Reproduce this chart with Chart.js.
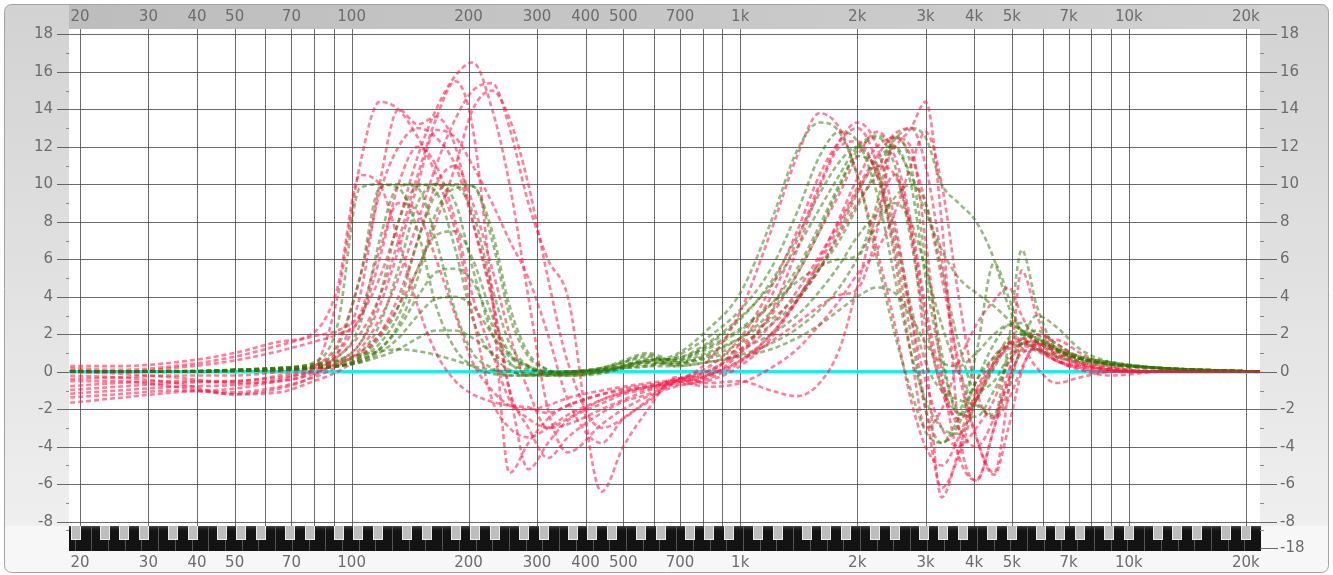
<!DOCTYPE html>
<html>
<head>
<meta charset="utf-8">
<title>EQ curves</title>
<script src="https://cdn.jsdelivr.net/npm/chart.js@4.4.1/dist/chart.umd.min.js"></script>
<style>
  html, body { margin: 0; padding: 0; background: #fff; }
  #wrap { width: 1333px; height: 575px; position: relative; }
</style>
</head>
<body>
<div id="wrap"><canvas id="eq-chart"></canvas></div>
<script>
// Frequency grid (Hz) shared by every curve
const freqs = [18, 25, 35, 50, 65, 80, 92, 105, 118, 132, 148, 165, 185, 205, 230, 255, 285, 320, 360, 440, 500, 580,
               680, 820, 1000, 1200, 1400, 1600, 1800, 2000, 2250, 2500, 2750, 3000, 3300, 3650, 4050, 4500, 4900, 5300, 5800, 6500, 7500, 9000, 12000, 22000];

// Red curves (dB)
const red1 = [0.3, 0.3, 0.5, 1.0, 1.6, 2.1, 4.5, 10.5, 10, 7, 3.5, 1, -0.5, -1.2, -1.6, -1.8, -1.9, -2.2, -1.8, -1.2, -0.9, -0.7,
              -0.5, -0.2, 0.6, 2, 3.8, 5.8, 7.8, 9.6, 11, 10.5, 7.5, 3, -1, -2.5, -1.5, 0.3, 1.4, 1.7, 1.3, 0.6, 0.1, -0.2, 0, 0];
const red2 = [-1.7, -1.4, -1.1, -0.9, -0.5, 0.2, 4, 11, 14.4, 14, 12.5, 10.5, 7.5, 3, -1.5, -3, -3.5, -3, -2.3, -1.5, -1.1, -0.8,
              -0.5, 0.5, 3.2, 7.5, 11.5, 13.8, 13, 10.5, 6.5, 2.5, -1.5, -4, -5, -3.5, -1, 0.8, 1.5, 1.6, 1.2, 0.6, 0.3, 0.1, 0, 0];
const red3 = [-0.5, -0.5, -0.8, -1.2, -0.9, -0.2, 1.0, 4, 10, 14, 13.2, 13.6, 12, 8, 3.8, -1, -3, -4.6, -3.5, -2.2, -1.6, -1.2,
              -0.6, -0.2, 1.5, 4, 7, 10, 12.3, 13.3, 12, 8, 3, -2, -6.2, -4.5, -1.5, 0.5, 1.5, 1.8, 1.5, 0.9, 0.4, 0.1, 0, 0];
const red4 = [-1.2, -1.0, -0.8, -0.7, -0.4, 0.1, 0.8, 2, 4, 7, 10.5, 13.5, 15.5, 13, 4, -5.4, -3.8, -2.5, -1.8, -1.2, -1, -0.8,
              -0.5, 0, 1, 2.5, 4.3, 6.2, 8, 9.8, 11.5, 12.7, 13, 11, 6, 0, -3.5, -5.4, -1, 5.4, 3, 0.8, 0.2, 0, 0, 0];
const red5 = [0.2, 0.1, 0.3, 0.8, 1.4, 1.9, 2.2, 3, 5, 8, 11.5, 14, 15.8, 16.5, 14, 10, 4, -2, -4.3, -2.8, -2, -1.3,
              -0.8, -0.4, 0.5, 2, 3.8, 5.5, 7.3, 9, 10.5, 12, 13, 14.4, 8, -3, -5.8, -3, 0, 1.5, 1.5, 1, 0.5, 0.2, 0, 0];
const red6 = [-1.4, -1.2, -1.0, -1.1, -0.8, -0.3, 0.3, 1.2, 2.8, 5, 8, 11, 13.5, 15, 15.4, 13, 9, 6, 4, -6.4, -4, -2,
              -0.3, -0.6, -0.5, -1.0, -1.3, -0.6, 1.2, 4.5, 8.5, 10.5, 7.5, 1, -6.7, -4.2, -1.2, 0.5, 1.2, 1.4, 1.1, 0.6, 0.3, 0.1, 0, 0];
const red7 = [-0.8, -0.6, -0.5, -0.5, -0.2, 0.3, 1.5, 5, 9.5, 12, 13, 12.5, 11, 8, 4, -1, -5.2, -3.8, -2.6, -1.7, -1.2, -0.9,
              -0.4, -0.2, 0.6, 1.6, 2.6, 3.5, 4.1, 4.4, 7.5, 12.5, 12, 7, 0, -4.5, -5.8, -3, -0.5, 1, 1.2, 0.8, 0.4, 0.1, 0, 0];
const red8 = [0, -0.1, -0.3, -0.6, -0.5, -0.1, 0.5, 1.5, 3.5, 6.5, 10, 12.9, 12.5, 11, 9, 7, 5, 2, -1.5, -3.8, -2.5, -1.6,
              -0.5, 0, 1.2, 3, 5.2, 7.5, 9.5, 11.5, 12.8, 11.5, 8, 3.5, -0.5, -3, -4, -2.5, -0.5, 1.2, 2, 1.5, 0.7, 0.2, 0, 0];
const red9 = [0.1, 0, 0.2, 0.6, 1.1, 1.6, 2.0, 2.8, 6, 10, 12, 11, 8, 4, 1, -1.5, -2.5, -3, -2.8, -2, -1.5, -1.0,
              -0.6, -0.3, 1, 3.2, 6.5, 9.8, 12, 12.3, 10.5, 7, 3, -0.5, -3, -4, -3, -1.5, 0.5, 1.2, 0.2, -0.6, -0.3, 0, 0, 0];
const red10 = [-0.2, -0.3, -0.6, -1.2, -1.1, -0.5, 0, 0.8, 2, 4, 7, 10, 11, 9, 5.5, 2, -1, -3, -2.5, -1.5, -1.1, -0.8,
               -0.7, -0.5, 0.3, 1.8, 3.8, 6, 8.2, 10.3, 12, 12.5, 11.5, 9, 5, 0.5, -3.5, -5.5, -3, 0, 1.5, 1.2, 0.5, 0.1, 0, 0];
const red11 = [-1.0, -0.8, -0.6, -0.5, -0.3, 0, 0.4, 1, 2, 3.5, 5.5, 8, 11, 14, 15, 13.5, 10, 5, 0.5, -3, -2.5, -1.5,
               -0.5, -0.8, -0.6, 0.2, 1.2, 2.5, 3.8, 5.2, 6.5, 8.5, 11, 12.8, 10, 4, -1, -2.5, -1.5, 0.2, 1.5, 1.7, 1.0, 0.3, 0, 0];
const red12 = [-0.4, -0.3, -0.2, -0.2, 0, 0.3, 1, 3, 6.5, 9, 8.5, 6, 3, 0.5, -1, -1.8, -2, -1.8, -1.4, -1, -0.8, -0.6,
               -0.4, 0.2, 1.8, 4.5, 7.5, 10.5, 12.3, 13, 11, 6, 1, -3, -2, 0.5, 2.5, 3.8, 4.5, 3, 1.5, 0.6, 0.2, 0, 0, 0];

// Green curves (dB)
const green1 = [0, 0, 0, 0.1, 0.2, 0.5, 2.5, 9.8, 10, 9.8, 7.5, 3.5, 1.2, 0.3, -0.1, -0.2, -0.2, -0.1, 0, 0.2, 0.4, 0.6,
                0.9, 2.2, 4.2, 8.0, 11.8, 13.3, 12.8, 10.5, 6, 2, -1, -3.2, -3.8, -2.5, -0.5, 0.8, 1.4, 1.5, 1.2, 0.8, 0.5, 0.3, 0.1, 0];
const green2 = [0, 0, 0, 0.1, 0.2, 0.4, 1.3, 5, 9.8, 10, 9.8, 7, 3.2, 1, 0.2, -0.2, -0.2, -0.1, 0, 0.1, 0.2, 0.3,
                0.8, 1.8, 3.3, 5.5, 8.5, 11.5, 12.8, 12.3, 9.5, 5, 1, -1.5, -3, -3.3, -1.5, 0.5, 1.8, 2.2, 1.8, 1.2, 0.7, 0.4, 0.2, 0];
const green3 = [0, 0, 0, 0.1, 0.2, 0.3, 0.8, 2.5, 7, 9.9, 10, 9.6, 6.5, 2.8, 0.9, 0.1, -0.2, -0.2, -0.1, 0.2, 0.5, 0.8,
                0.6, 1.2, 2.2, 3.6, 5.5, 7.8, 10, 11.8, 12.5, 11, 7, 2.5, -0.8, -2.2, -2.4, -1, 0.5, 1.5, 1.6, 1.2, 0.7, 0.4, 0.2, 0];
const green4 = [0, 0, 0, 0.1, 0.15, 0.3, 0.6, 1.5, 4, 8, 9.9, 10, 9, 5.5, 2, 0.5, -0.1, -0.2, -0.1, 0.1, 0.3, 0.5,
                0.5, 1.0, 1.8, 2.8, 4, 5.5, 7, 8.8, 10.8, 12.4, 13, 12.5, 10, 9, 8, 6, 3.5, 2.2, 1.8, 1.3, 0.8, 0.5, 0.2, 0];
const green5 = [0, 0, 0, 0.05, 0.1, 0.25, 0.5, 1, 2.5, 5.5, 9, 10, 9.9, 8.5, 4.5, 1.5, 0.3, -0.2, -0.2, 0, 0.3, 0.6,
                0.7, 1.3, 2.3, 3.6, 4.8, 5.6, 6, 6.2, 9, 12.6, 11, 6, 1, -2.3, -1.5, 0.2, 1.5, 2, 1.7, 1.2, 0.7, 0.4, 0.2, 0];
const green6 = [0, 0, 0, 0.05, 0.1, 0.2, 0.4, 0.8, 1.8, 3.5, 7, 9.5, 10, 9.9, 7.5, 3.5, 1, 0.1, -0.2, -0.1, 0.2, 0.4,
                0.4, 0.9, 1.8, 3.2, 5.2, 7.5, 9.8, 11.5, 10.8, 7.5, 3.5, 0.5, -1, -1.5, -1.8, -2.3, 1.5, 6.5, 3.5, 1.2, 0.7, 0.4, 0.2, 0];
const green7 = [0, 0, 0, 0.05, 0.1, 0.2, 0.3, 0.7, 1.5, 3, 5.5, 7.3, 7.5, 6, 3, 1, 0.3, -0.1, -0.2, 0, 0.3, 0.7,
                0.5, 0.8, 1.5, 2.5, 3.8, 5.5, 7.5, 9.5, 11.3, 12, 10, 5, 0.5, -2, 1, 5.8, 4, 2, 1.2, 0.9, 0.6, 0.4, 0.2, 0];
const green8 = [0, 0, 0, 0.05, 0.1, 0.2, 0.3, 0.6, 1.2, 2.3, 4, 5.3, 5.5, 4.8, 2.5, 0.9, 0.3, 0, -0.1, 0.1, 0.5, 0.9,
                0.3, 0.5, 0.9, 1.5, 2.3, 3.3, 4.5, 6, 7.8, 9.3, 10, 9, 5.5, 1.5, -1, -0.5, 0.8, 1.8, 2.2, 1.5, 0.8, 0.5, 0.2, 0];
const green9 = [0, 0, 0, 0.05, 0.1, 0.2, 0.3, 0.5, 1, 1.8, 3, 3.9, 4, 3.5, 2, 0.8, 0.2, 0, 0, 0.2, 0.6, 1.0,
                0.6, 1.4, 2.8, 4.8, 7.2, 9.5, 11.2, 12, 10.5, 6.5, 2, -2, -3.8, -2.8, -0.5, 1.5, 2.5, 2.6, 2, 1.3, 0.8, 0.5, 0.2, 0];
const green10 = [0, 0, 0, 0.05, 0.1, 0.2, 0.3, 0.5, 0.8, 1.2, 1.8, 2.2, 2.2, 1.8, 1, 0.4, 0.1, 0, 0, 0.1, 0.3, 0.6,
                 0.7, 1.5, 2.9, 4.6, 6.6, 8.7, 10.5, 12, 12.6, 12, 10.5, 8.5, 6.5, 5, 4.2, 3.5, 2.8, 2.2, 1.6, 1.1, 0.7, 0.4, 0.2, 0];
const green11 = [0, 0, 0, 0.05, 0.1, 0.2, 0.3, 0.6, 1.2, 2.5, 5, 8.5, 9.8, 9.9, 7, 3, 0.8, 0.1, -0.1, 0, 0.2, 0.5,
                 0.4, 0.7, 1.2, 2, 3, 4.3, 5.7, 7.2, 8.4, 9, 8, 5.5, 2.5, 0, -1.6, -2.4, -1, 1.5, 3, 2.4, 1.2, 0.5, 0.2, 0];
const green12 = [0, 0, 0.05, 0.1, 0.2, 0.4, 0.6, 0.9, 1.1, 1.2, 1.1, 0.9, 0.6, 0.3, 0.1, 0, -0.1, -0.1, 0, 0.1, 0.2, 0.3,
                 0.3, 0.5, 0.8, 1.2, 1.8, 2.5, 3.3, 4, 4.5, 4.2, 3, 1.5, 0.5, 0.3, 1, 2, 2.5, 2.2, 1.6, 1.1, 0.7, 0.4, 0.2, 0];

// Flat 0 dB reference line
const refFreqs = [18, 22000];
const refLine = [0, 0];

// Axis ticks
const freqTicks = [20, 30, 40, 50, 70, 100, 200, 300, 400, 500, 700, 1000, 2000, 3000, 4000, 5000, 7000, 10000, 20000];
const freqTickLabels = ['20', '30', '40', '50', '70', '100', '200', '300', '400', '500', '700', '1k', '2k', '3k', '4k', '5k', '7k', '10k', '20k'];
const freqGrid = [20, 30, 40, 50, 60, 70, 80, 90, 100, 200, 300, 400, 500, 600, 700, 800, 900,
                  1000, 2000, 3000, 4000, 5000, 6000, 7000, 8000, 9000, 10000, 20000];
const dbTicks = [-8, -6, -4, -2, 0, 2, 4, 6, 8, 10, 12, 14, 16, 18];
const dbMinorTicks = [-7, -5, -3, -1, 1, 3, 5, 7, 9, 11, 13, 15, 17];

const redCurves = [red1, red2, red3, red4, red5, red6, red7, red8, red9, red10, red11, red12];
const greenCurves = [green1, green2, green3, green4, green5, green6, green7, green8, green9, green10, green11, green12];

const RED = 'rgba(255, 20, 70, 0.55)';
const GREEN = 'rgba(50, 115, 0, 0.5)';
const LABEL_FONT = '15px "DejaVu Sans", Verdana, sans-serif';
const LABEL_COLOR = '#6c6c6c';

function toPoints(xs, ys) {
    return xs.map((f, i) => ({ x: f, y: ys[i] }));
}

function curveDataset(values, color) {
    return {
        data: toPoints(freqs, values),
        borderColor: color,
        borderWidth: 2.6,
        borderDash: [5, 3],
        borderCapStyle: 'butt',
        pointRadius: 0,
        fill: false,
        cubicInterpolationMode: 'monotone',
        order: 0
    };
}

// Interleave red and green so neither sits fully on top
const datasets = [];
for (let i = 0; i < redCurves.length; i++) {
    datasets.push(curveDataset(redCurves[i], RED));
    datasets.push(curveDataset(greenCurves[i], GREEN));
}
datasets.push({
    data: toPoints(refFreqs, refLine),
    borderColor: '#10f2f2',
    borderWidth: 3.6,
    pointRadius: 0,
    order: 1
});

function roundRectPath(ctx, x, y, w, h, r) {
    ctx.beginPath();
    ctx.moveTo(x + r, y);
    ctx.arcTo(x + w, y, x + w, y + h, r);
    ctx.arcTo(x + w, y + h, x, y + h, r);
    ctx.arcTo(x, y + h, x, y, r);
    ctx.arcTo(x, y, x + w, y, r);
    ctx.closePath();
}

// Frame, bands, grid
const backgroundPlugin = {
    id: 'eqBackground',
    beforeDatasetsDraw(chart) {
        const { ctx, chartArea: a, scales: { x, y } } = chart;
        const W = chart.width, H = chart.height;
        ctx.save();
        ctx.fillStyle = '#ffffff';
        ctx.fillRect(0, 0, W, H);

        // outer panel
        roundRectPath(ctx, 4.5, 4.5, W - 9, H - 7, 7);
        const bg = ctx.createLinearGradient(0, 5, 0, a.bottom);
        bg.addColorStop(0, '#d2d2d2');
        bg.addColorStop(1, '#efefef');
        ctx.fillStyle = bg;
        ctx.fill();
        ctx.save();
        ctx.clip();
        ctx.fillStyle = '#f7f7f7';
        ctx.fillRect(0, a.bottom, W, H - a.bottom);
        ctx.restore();
        roundRectPath(ctx, 4.5, 4.5, W - 9, H - 7, 7);
        ctx.strokeStyle = '#a2a2a2';
        ctx.lineWidth = 1;
        ctx.stroke();

        // top frequency band
        const tb = ctx.createLinearGradient(a.left, 0, a.right, 0);
        tb.addColorStop(0, '#bdbdbd');
        tb.addColorStop(1, '#d0d0d0');
        ctx.fillStyle = tb;
        ctx.fillRect(a.left, 5, a.right - a.left, a.top - 5);

        // plot area
        ctx.fillStyle = '#ffffff';
        ctx.fillRect(a.left, a.top, a.right - a.left, a.bottom - a.top);

        // grid
        ctx.strokeStyle = 'rgba(70, 70, 70, 0.8)';
        ctx.lineWidth = 1;
        ctx.beginPath();
        freqGrid.forEach(f => {
            const px = Math.round(x.getPixelForValue(f)) + 0.5;
            ctx.moveTo(px, a.top);
            ctx.lineTo(px, a.bottom);
        });
        dbTicks.forEach(v => {
            const py = Math.round(y.getPixelForValue(v)) + 0.5;
            ctx.moveTo(a.left - 12, py);
            ctx.lineTo(a.right + 17, py);
        });
        ctx.stroke();

        // minor ticks
        ctx.strokeStyle = '#8a8a8a';
        ctx.beginPath();
        dbMinorTicks.forEach(v => {
            const py = Math.round(y.getPixelForValue(v)) + 0.5;
            ctx.moveTo(a.left - 3, py);
            ctx.lineTo(a.left, py);
            ctx.moveTo(a.right, py);
            ctx.lineTo(a.right + 4, py);
        });
        ctx.stroke();
        ctx.restore();
    }
};

// Piano keyboard strip and all labels
const overlayPlugin = {
    id: 'eqOverlay',
    afterDraw(chart) {
        const { ctx, chartArea: a, scales: { x, y } } = chart;
        const top = a.bottom, keyH = 25;
        ctx.save();

        ctx.beginPath();
        ctx.rect(a.left, top, a.right - a.left + 1, keyH);
        ctx.clip();
        ctx.fillStyle = '#131313';
        ctx.fillRect(a.left, top, a.right - a.left + 1, keyH);
        const shine = ctx.createLinearGradient(0, top, 0, top + 6);
        shine.addColorStop(0, '#4a4a4a');
        shine.addColorStop(1, 'rgba(19,19,19,0)');
        ctx.fillStyle = shine;
        ctx.fillRect(a.left, top, a.right - a.left + 1, 6);

        // white key separators: 7 equal keys per octave starting half a semitone below C
        ctx.strokeStyle = '#555555';
        ctx.lineWidth = 1;
        ctx.beginPath();
        for (let oct = -1; oct <= 11; oct++) {
            const c = 440 * Math.pow(2, (12 * (oct + 1) - 69) / 12);
            for (let k = 0; k < 7; k++) {
                const semis = -0.5 + k * 12 / 7;
                const px = Math.round(x.getPixelForValue(c * Math.pow(2, semis / 12))) + 0.5;
                if (px > a.left + 1 && px < a.right) {
                    ctx.moveTo(px, top);
                    ctx.lineTo(px, top + keyH);
                }
            }
        }
        ctx.stroke();

        // black keys drawn as grey squares
        const blackNotes = [1, 3, 6, 8, 10];
        for (let n = 0; n < 140; n++) {
            if (!blackNotes.includes(n % 12)) continue;
            const f = 440 * Math.pow(2, (n - 69) / 12);
            const cx = x.getPixelForValue(f);
            if (cx < a.left - 6 || cx > a.right + 6) continue;
            const l = Math.round(cx - 4.5);
            ctx.fillStyle = '#bdbdbd';
            ctx.fillRect(l, top, 9, 13);
            ctx.strokeStyle = '#ececec';
            ctx.strokeRect(l + 0.5, top - 0.5, 9, 14);
        }
        ctx.restore();

        ctx.save();
        // extra ticks along the keyboard strip
        ctx.strokeStyle = '#8a8a8a';
        ctx.lineWidth = 1;
        ctx.beginPath();
        ctx.moveTo(a.left - 3, top + 4.5); ctx.lineTo(a.left, top + 4.5);
        ctx.moveTo(a.right, top + 4.5); ctx.lineTo(a.right + 4, top + 4.5);
        ctx.stroke();
        ctx.strokeStyle = 'rgba(70, 70, 70, 0.8)';
        ctx.beginPath();
        ctx.moveTo(a.right, top + 22.5); ctx.lineTo(a.right + 18, top + 22.5);
        ctx.stroke();

        // labels
        ctx.font = LABEL_FONT;
        ctx.fillStyle = LABEL_COLOR;
        ctx.textBaseline = 'middle';
        ctx.textAlign = 'center';
        freqTicks.forEach((f, i) => {
            const px = x.getPixelForValue(f);
            ctx.fillText(freqTickLabels[i], px, 17);
            ctx.fillText(freqTickLabels[i], px, top + 37);
        });
        dbTicks.forEach(v => {
            const py = y.getPixelForValue(v);
            ctx.textAlign = 'right';
            ctx.fillText(String(v), a.left - 16, py);
            ctx.textAlign = 'left';
            ctx.fillText(String(v), a.right + 20, py);
        });
        ctx.textAlign = 'left';
        ctx.fillText('-18', a.right + 20, top + 22);
        ctx.restore();
    }
};

const chart = new Chart(document.getElementById('eq-chart').getContext('2d'), {
    type: 'line',
    data: { datasets: datasets },
    options: {
        responsive: true,
        maintainAspectRatio: false,
        animation: false,
        events: [],
        layout: { padding: { left: 69, right: 73, top: 29, bottom: 49 } },
        scales: {
            x: { type: 'logarithmic', min: 18.74, max: 21754, display: false },
            y: { type: 'linear', min: -8.23, max: 18.29, display: false }
        },
        plugins: {
            legend: { display: false },
            tooltip: { enabled: false }
        }
    },
    plugins: [backgroundPlugin, overlayPlugin]
});
</script>
</body>
</html>
